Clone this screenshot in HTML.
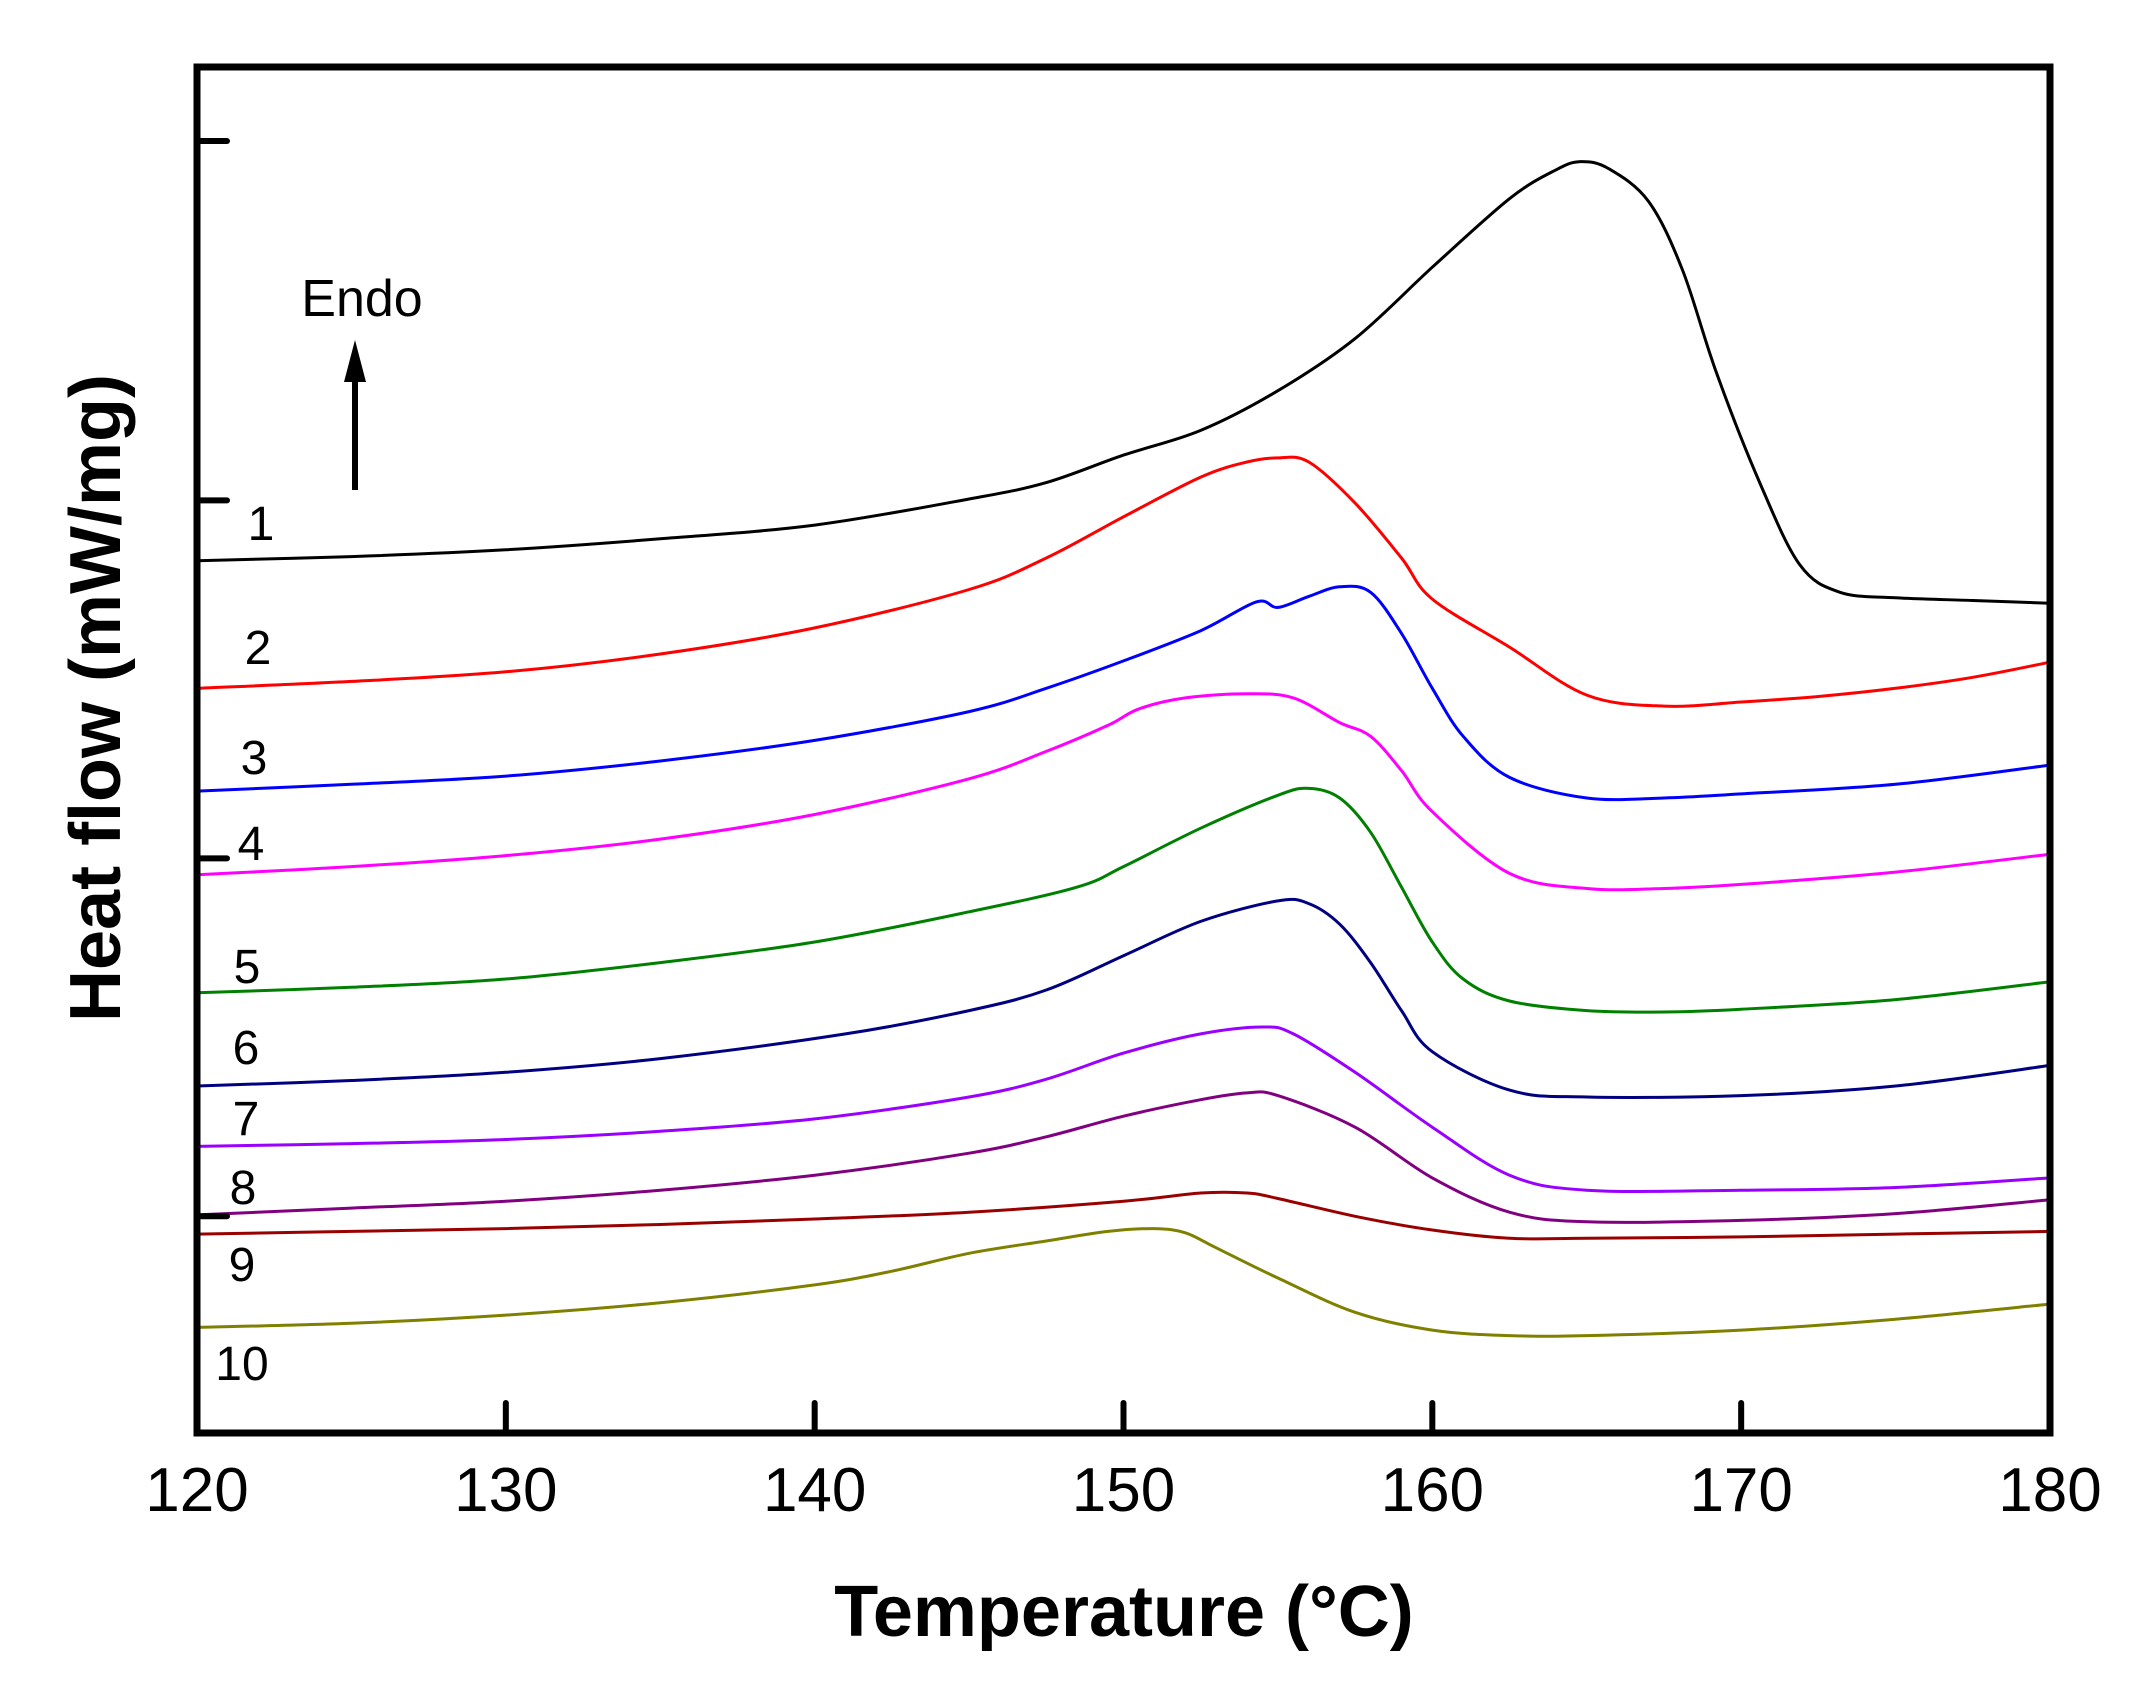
<!DOCTYPE html>
<html><head><meta charset="utf-8"><style>
html,body{margin:0;padding:0;background:#fff;}
svg{display:block;font-family:"Liberation Sans",Arial,sans-serif;}
</style></head><body>
<svg id="chart" width="2155" height="1694" viewBox="0 0 2155 1694" xmlns="http://www.w3.org/2000/svg">
<g id="curves"></g>
<g id="axes"></g>
<g id="labels"></g>
</svg>
<script>
const xTicks = [120,130,140,150,160,170,180];
const yTicks = [1.58,4.19,6.80,9.42];
const seriesNames = ["1","2","3","4","5","6","7","8","9","10"];
const seriesColors = ["#000000","#ff0000","#0000ff","#ff00ff","#008000","#000080","#9900ff","#800080","#990000","#808000"];
const t1 = [120,125,130,135,140,145,147.5,150,152.5,155,157.5,160,162.5,164,164.8,165.7,167,168.1,169.2,170.6,171.9,173.2,175,177.5,180];
const h1 = [6.36,6.39,6.44,6.52,6.62,6.81,6.93,7.13,7.31,7.60,7.98,8.50,9.00,9.21,9.27,9.22,8.98,8.48,7.73,6.93,6.33,6.13,6.09,6.07,6.05];
const t2 = [120,125,130,135,140,145,147.5,150,152.5,154,155,156,157.5,159,160,162.5,165,167.5,170,172.5,175,177.5,180];
const h2 = [5.43,5.48,5.55,5.68,5.87,6.15,6.38,6.68,6.97,7.08,7.11,7.08,6.78,6.38,6.08,5.73,5.38,5.30,5.33,5.37,5.43,5.51,5.62];
const t3 = [120,125,130,135,140,145,147.5,150,152.5,154.3,155,156,157,158,159,160,161,162.5,165,167.5,170,175,180];
const h3 = [4.68,4.73,4.79,4.90,5.05,5.26,5.43,5.63,5.85,6.06,6.02,6.10,6.17,6.13,5.83,5.43,5.08,4.78,4.63,4.63,4.66,4.73,4.87];
const t4 = [120,125,130,135,140,145,147.5,149.5,150.5,152,154,155.5,157,158,159,160,162.5,165,167.5,170,175,180];
const h4 = [4.07,4.13,4.21,4.33,4.51,4.77,4.97,5.16,5.28,5.36,5.39,5.36,5.18,5.08,4.83,4.53,4.08,3.97,3.97,4.00,4.09,4.22];
const t5 = [120,125,130,135,140,145,148.5,150,152.5,155,156,157,158,159,160,161,162.5,165,167.5,170,175,180];
const h5 = [3.21,3.25,3.31,3.43,3.58,3.80,3.98,4.13,4.41,4.65,4.70,4.63,4.38,3.98,3.58,3.31,3.15,3.08,3.07,3.09,3.16,3.29];
const t6 = [120,125,130,135,141,145,147.5,150,152.5,155,156,157,158,159,160,162.5,165,170,175,180];
const h6 = [2.53,2.57,2.63,2.73,2.91,3.08,3.23,3.48,3.73,3.88,3.86,3.71,3.43,3.08,2.78,2.50,2.45,2.46,2.53,2.68];
const t7 = [120,125,130,135,140,145,147.5,150,152.5,154.5,155.5,157.5,160,162.5,165,170,175,180];
const h7 = [2.09,2.11,2.14,2.20,2.29,2.45,2.58,2.77,2.91,2.96,2.91,2.63,2.23,1.88,1.77,1.77,1.79,1.86];
const t8 = [120,125,130,135,140,145,147.5,150,152.5,154,155,157.5,160,162.5,165,170,175,180];
const h8 = [1.59,1.64,1.69,1.77,1.88,2.04,2.16,2.31,2.43,2.48,2.46,2.23,1.86,1.61,1.54,1.55,1.60,1.70];
const t9 = [120,125,130,135,140,145,150,152.5,154,155,157.5,160,162.5,165,170,175,180];
const h9 = [1.45,1.47,1.49,1.52,1.56,1.61,1.69,1.75,1.75,1.71,1.58,1.48,1.42,1.42,1.43,1.45,1.47];
const t10 = [120,125,130,135,140,142.5,145,147.5,149.5,151,152,153,155,157.5,160,162.5,165,170,175,180];
const h10 = [0.77,0.80,0.86,0.95,1.08,1.18,1.31,1.40,1.47,1.49,1.46,1.35,1.13,0.88,0.75,0.71,0.71,0.75,0.83,0.94];
const allT = [t1,t2,t3,t4,t5,t6,t7,t8,t9,t10];
const allH = [h1,h2,h3,h4,h5,h6,h7,h8,h9,h10];

const L=197,R=2050,T=67,B=1433, xMin=120,xMax=180,yMin=0,yMax=9.96;
function xs(v){return L+(v-xMin)/(xMax-xMin)*(R-L);}
function ys(v){return B-(v-yMin)/(yMax-yMin)*(B-T);}
const NS="http://www.w3.org/2000/svg";
function mk(tag,attrs,parent){const e=document.createElementNS(NS,tag);for(const k in attrs)e.setAttribute(k,attrs[k]);parent.appendChild(e);return e;}
function smoothPath(pts){
  let d="M"+pts[0][0].toFixed(1)+","+pts[0][1].toFixed(1);
  for(let i=0;i<pts.length-1;i++){
    const p0=pts[Math.max(i-1,0)],p1=pts[i],p2=pts[i+1],p3=pts[Math.min(i+2,pts.length-1)];
    const c1=[p1[0]+(p2[0]-p0[0])/6,p1[1]+(p2[1]-p0[1])/6];
    const c2=[p2[0]-(p3[0]-p1[0])/6,p2[1]-(p3[1]-p1[1])/6];
    d+=" C"+c1[0].toFixed(1)+","+c1[1].toFixed(1)+" "+c2[0].toFixed(1)+","+c2[1].toFixed(1)+" "+p2[0].toFixed(1)+","+p2[1].toFixed(1);
  }
  return d;
}
const gC=document.getElementById('curves');
for(let s=0;s<allT.length;s++){
  const pts=allT[s].map((t,i)=>[xs(t),ys(allH[s][i])]);
  const p=mk('path',{d:smoothPath(pts),fill:'none',stroke:seriesColors[s],'stroke-width':3,'stroke-linejoin':'round'},gC);
  
  
}
const gA=document.getElementById('axes');
const frame=mk('rect',{x:L,y:T,width:R-L,height:B-T,fill:'none',stroke:'#000','stroke-width':7},gA);


xTicks.forEach(v=>{
  if(v>xMin&&v<xMax){
    const tk=mk('line',{x1:xs(v),x2:xs(v),y1:B,y2:B-30,stroke:'#000','stroke-width':6,'stroke-linecap':'round'},gA);
    
    
  }
  const tl=mk('text',{x:xs(v),y:B+78,'text-anchor':'middle','font-size':62},gA);
  tl.textContent=v;
  
  
});
yTicks.forEach((v,i)=>{
  const tk=mk('line',{x1:L,x2:L+30,y1:ys(v),y2:ys(v),stroke:'#000','stroke-width':6,'stroke-linecap':'round'},gA);
  
  
});
const gL=document.getElementById('labels');
const labelPos=[[261,523],[258,647],[254,757],[251,843],[247,966],[246,1047],[246,1118],[243,1187],[242,1264],[242,1363]];
seriesNames.forEach((n,i)=>{
  const t=mk('text',{x:labelPos[i][0],y:labelPos[i][1]+17,'text-anchor':'middle','font-size':48},gL);
  t.textContent=n;
  
  
});
</script>
<svg style="position:absolute;left:0;top:0" width="2155" height="1694">
<text x="362" y="316" text-anchor="middle" font-size="52" font-family="Liberation Sans, Arial, sans-serif">Endo</text>
<line x1="355" y1="490" x2="355" y2="370" stroke="#000" stroke-width="6"/>
<polygon points="355,340 344,382 366,382" fill="#000"/>
<text x="1124" y="1636" text-anchor="middle" font-size="72" font-weight="bold" font-family="Liberation Sans, Arial, sans-serif">Temperature (°C)</text>
<text transform="translate(120,698) rotate(-90)" text-anchor="middle" font-size="72" font-weight="bold" font-family="Liberation Sans, Arial, sans-serif">Heat flow (mW/mg)</text>
</svg>
</body></html>
